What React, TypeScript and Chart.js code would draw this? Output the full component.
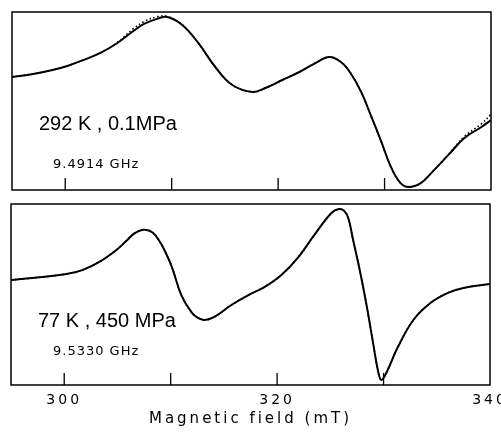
import React, { useEffect, useRef } from "react";
import { Chart, registerables } from "chart.js";

Chart.register(...registerables);

// ---- Data ----
const fieldTop = [295.0, 297.0, 298.6, 300.2, 301.7, 303.3, 304.9, 306.4, 307.4, 308.7, 309.6, 311.0, 312.5, 314.1, 315.7, 317.6, 318.8, 320.4, 322.0, 323.5, 324.8, 325.9, 326.8, 327.8, 328.7, 329.7, 330.6, 331.5, 332.3, 333.4, 334.4, 336.0, 337.5, 339.1, 340.0];
const signalTop = [63.5, 65.2, 67.1, 69.7, 73.0, 77.0, 82.6, 89.3, 93.3, 96.3, 97.2, 92.7, 82.6, 69.1, 59.0, 55.1, 57.3, 61.8, 66.3, 71.3, 74.7, 71.9, 65.7, 55.1, 42.1, 27.0, 12.9, 3.9, 1.7, 3.9, 9.6, 19.7, 29.2, 35.4, 39.3];
const fitTop = [63.5, 65.2, 67.1, 69.7, 73.0, 77.0, 82.9, 90.6, 94.6, 97.4, 97.5, 92.7, 82.6, 69.1, 59.0, 55.1, 57.3, 61.8, 66.3, 71.3, 74.7, 71.9, 65.7, 55.1, 42.1, 27.0, 12.9, 3.9, 1.7, 3.9, 9.6, 20.0, 30.0, 37.2, 42.5];

const fieldBottom = [295.0, 297.0, 300.2, 301.7, 303.3, 304.9, 305.9, 306.6, 307.5, 308.3, 309.0, 309.5, 310.1, 311.0, 312.0, 312.6, 313.2, 314.1, 315.7, 317.3, 318.8, 320.4, 322.0, 323.5, 325.1, 325.8, 326.3, 326.7, 327.1, 327.8, 328.4, 329.0, 329.5, 329.8, 330.3, 331.3, 332.8, 334.4, 336.0, 337.5, 340.0];
const signalBottom = [58.0, 59.1, 61.3, 63.5, 68.0, 74.6, 80.0, 83.8, 85.8, 84.3, 79.0, 73.5, 65.4, 49.7, 39.8, 37.0, 35.9, 37.6, 44.2, 49.7, 54.1, 60.8, 70.7, 82.9, 95.0, 97.2, 96.2, 92.0, 81.2, 62.4, 44.2, 23.8, 7.2, 2.8, 7.2, 20.4, 35.9, 45.3, 50.8, 53.6, 55.8];
const fitBottom = [58.0, 59.1, 61.3, 63.5, 68.0, 74.6, 80.0, 83.8, 85.8, 84.3, 79.0, 73.5, 65.4, 49.7, 39.8, 37.0, 35.9, 37.6, 44.2, 49.7, 54.1, 60.8, 70.7, 82.9, 95.0, 97.2, 96.2, 92.0, 81.2, 62.4, 44.2, 23.8, 7.2, 2.8, 7.2, 20.4, 35.9, 45.3, 50.8, 53.6, 55.8];

const xMin = 295;
const xMax = 340;
const tickMarks = [300, 310, 320, 330];
const tickLabels = [300, 320, 340];
const xTitle = "Magnetic field (mT)";
const topLines = ["292 K , 0.1MPa", "9.4914 GHz"];
const bottomLines = ["77 K , 450 MPa", "9.5330 GHz"];

const toPoints = (xs: number[], ys: number[]) => xs.map((x, i) => ({ x, y: ys[i] }));

const framePlugin = {
  id: "frame",
  afterDraw(chart: any, _args: any, opts: any) {
    const { ctx, chartArea: a, scales } = chart;
    ctx.save();
    ctx.letterSpacing = "0px";
    ctx.strokeStyle = "#000";
    ctx.lineWidth = 1.5;
    ctx.strokeRect(a.left, a.top, a.right - a.left, a.bottom - a.top);
    ctx.lineWidth = 1.3;
    for (const v of tickMarks) {
      const x = scales.x.getPixelForValue(v);
      ctx.beginPath();
      ctx.moveTo(x, a.bottom);
      ctx.lineTo(x, a.bottom - 12);
      ctx.stroke();
    }
    ctx.fillStyle = "#000";
    ctx.textBaseline = "alphabetic";
    ctx.textAlign = "left";
    ctx.font = "20px 'Liberation Sans'";
    ctx.letterSpacing = "0px";
    ctx.fillText(opts.lines[0], a.left + opts.dx1, a.top + opts.dy1);
    ctx.font = "13px 'DejaVu Sans'";
    ctx.letterSpacing = "1px";
    ctx.fillText(opts.lines[1], a.left + opts.dx2, a.top + opts.dy2);
    ctx.restore();
  },
};

const spacingPlugin = {
  id: "spacing",
  beforeDraw(chart: any) {
    chart.ctx.letterSpacing = "3px";
  },
};

function makeChart(canvas: HTMLCanvasElement, isBottom: boolean) {
  const field = isBottom ? fieldBottom : fieldTop;
  const signal = isBottom ? signalBottom : signalTop;
  const fit = isBottom ? fitBottom : fitTop;
  const xScale: any = {
    type: "linear",
    min: xMin,
    max: xMax,
    display: isBottom,
    position: "bottom",
    grid: { display: false, drawTicks: false },
    border: { display: false },
    ticks: {
      color: "#000",
      font: { family: "'DejaVu Sans'", size: 14 },
      padding: 7,
      maxRotation: 0,
      autoSkip: false,
    },
    afterBuildTicks: (scale: any) => {
      scale.ticks = tickLabels.map((v) => ({ value: v }));
    },
    title: {
      display: true,
      text: xTitle,
      color: "#000",
      font: { family: "'DejaVu Sans'", size: 15 },
      padding: { top: 0, bottom: 9 },
    },
  };
  if (isBottom) {
    xScale.afterFit = (scale: any) => {
      scale.height = 52;
      scale.paddingLeft = 0;
      scale.paddingRight = 0;
    };
  }
  return new Chart(canvas, {
    type: "line",
    data: {
      datasets: [
        {
          data: toPoints(field, signal),
          borderColor: "#000",
          borderWidth: 2,
          pointRadius: 0,
          tension: 0.4,
          fill: false,
        },
        {
          data: toPoints(field, fit),
          borderColor: "#000",
          borderWidth: 1.6,
          borderDash: [1.5, 2.5],
          pointRadius: 0,
          tension: 0.4,
          fill: false,
        },
      ],
    },
    options: {
      animation: false,
      responsive: false,
      events: [],
      layout: {
        padding: isBottom
          ? { left: 11, right: 11, top: 204, bottom: 0 }
          : { left: 12, right: 10, top: 12, bottom: 247 },
      },
      plugins: {
        legend: { display: false },
        tooltip: { enabled: false },
        frame: isBottom
          ? { lines: bottomLines, dx1: 27, dy1: 123, dx2: 42, dy2: 151 }
          : { lines: topLines, dx1: 27, dy1: 118, dx2: 41, dy2: 156 },
      } as any,
      scales: {
        x: xScale,
        y: { display: false, min: 0, max: 100 },
      },
    } as any,
    plugins: isBottom ? [framePlugin, spacingPlugin] : [framePlugin],
  });
}

export default function App() {
  const topRef = useRef<HTMLCanvasElement>(null);
  const bottomRef = useRef<HTMLCanvasElement>(null);

  useEffect(() => {
    const c1 = makeChart(topRef.current!, false);
    const c2 = makeChart(bottomRef.current!, true);
    return () => {
      c1.destroy();
      c2.destroy();
    };
  }, []);

  const canvasStyle: React.CSSProperties = { position: "absolute", left: 0, top: 0 };
  return (
    <div style={{ position: "absolute", left: 0, top: 0, width: 501, height: 437, background: "#fff" }}>
      <canvas ref={topRef} width={501} height={437} style={canvasStyle} />
      <canvas ref={bottomRef} width={501} height={437} style={canvasStyle} />
    </div>
  );
}
